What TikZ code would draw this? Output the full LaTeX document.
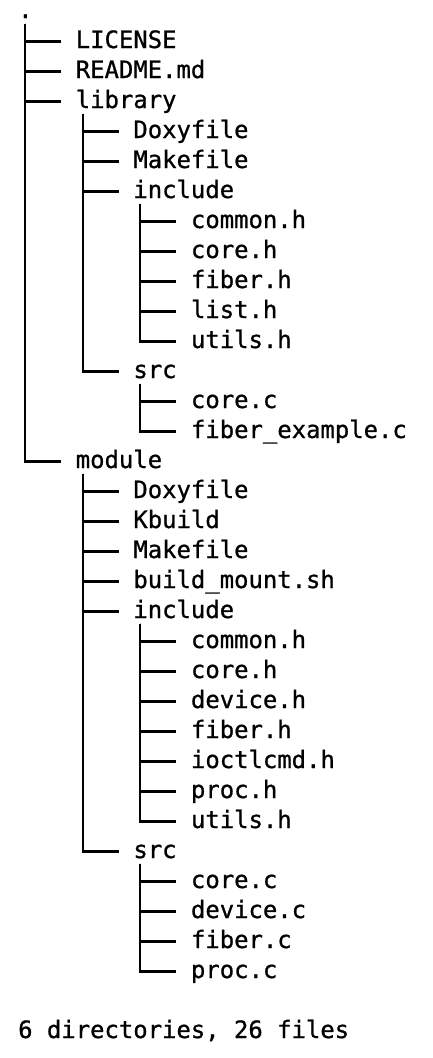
\documentclass[tikz,border=0pt]{standalone}
\usepackage{fontspec}
\newfontfamily\treemono[FakeBold=0.9]{DejaVu Sans Mono}
\begin{document}
\begin{tikzpicture}[x=1pt,y=1pt,
  entry/.style={anchor=west,inner sep=0pt,text height=17.5pt,text depth=4.5pt,
    font=\treemono\fontsize{23.9}{30}\selectfont},
  conn/.style={draw=black,line width=2.1pt}]
\useasboundingbox (0,0) rectangle (432,-1058);
\foreach \r/\d/\t in {0/0/{.},1/1/{LICENSE},2/1/{README.md},3/1/{library},
  4/2/{Doxyfile},5/2/{Makefile},6/2/{include},7/3/{common.h},8/3/{core.h},
  9/3/{fiber.h},10/3/{list.h},11/3/{utils.h},12/2/{src},13/3/{core.c},
  14/3/{fiber\_example.c},15/1/{module},16/2/{Doxyfile},17/2/{Kbuild},
  18/2/{Makefile},19/2/{build\_mount.sh},20/2/{include},21/3/{common.h},
  22/3/{core.h},23/3/{device.h},24/3/{fiber.h},25/3/{ioctlcmd.h},
  26/3/{proc.h},27/3/{utils.h},28/2/{src},29/3/{core.c},30/3/{device.c},
  31/3/{fiber.c},32/3/{proc.c}}
  \node[entry] (n\r) at ({18+57.6*\d},{-(11.5+30*\r)}) {\t};
\node[entry] (summary) at (18,{-(11.5+30*34)}) {6 directories, 26 files};
\foreach \p/\c in {0/1,0/2,0/3,0/15,3/4,3/5,3/6,3/12,6/7,6/8,6/9,6/10,6/11,
  12/13,12/14,15/16,15/17,15/18,15/19,15/20,15/28,20/21,20/22,20/23,20/24,
  20/25,20/26,20/27,28/29,28/30,28/31,28/32}
  \draw[conn] ([xshift=7.2pt,yshift=-12pt]n\p.west) |- ([xshift=-14.4pt]n\c.west);
\end{tikzpicture}
\end{document}
